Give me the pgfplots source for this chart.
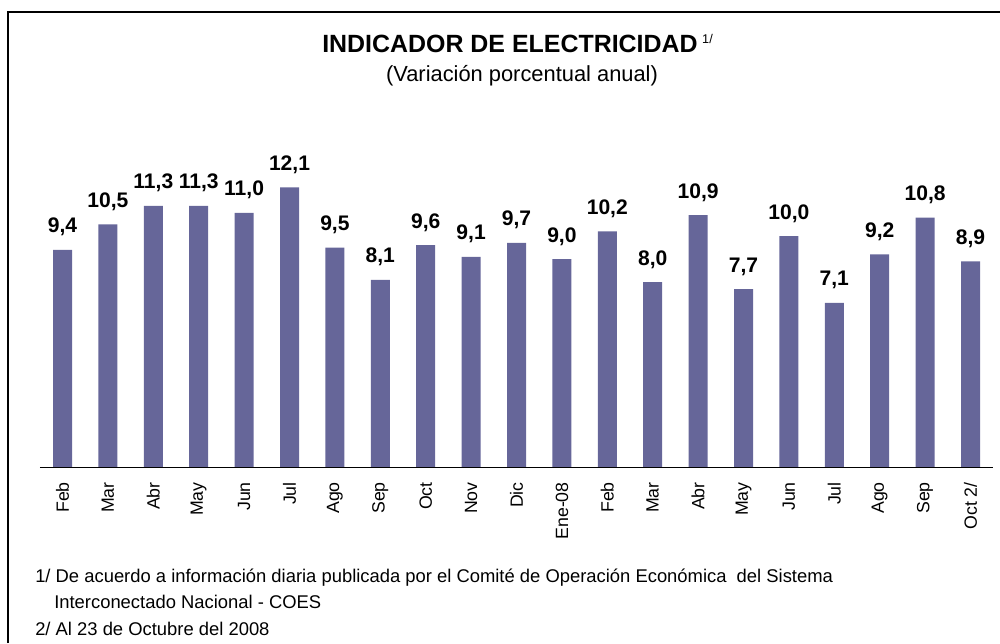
\documentclass[border=0pt]{standalone}
\usepackage{fontspec}
\setmainfont{Liberation Sans}
\usepackage{pgfplots}
\pgfplotsset{compat=1.18}
\definecolor{barc}{HTML}{666699}
\pgfplotstableread{
x v
0 9.4
1 10.5
2 11.3
3 11.3
4 11.0
5 12.1
6 9.5
7 8.1
8 9.6
9 9.1
10 9.7
11 9.0
12 10.2
13 8.0
14 10.9
15 7.7
16 10.0
17 7.1
18 9.2
19 10.8
20 8.9
}\datatable
\begin{document}
\begin{tikzpicture}
\path[use as bounding box] (0,0) rectangle (750pt,-482.25pt);
\begin{scope}[x=0.75pt,y=-0.75pt]
\coordinate (O) at (39.8,467);
\draw[line width=1.3pt] (8,643) -- (8,12) -- (1000,12);
\node[anchor=base, font=\fontsize{18.7}{22}\selectfont\bfseries, inner sep=0pt] (T) at (510,52.7) {INDICADOR DE ELECTRICIDAD};
\node[anchor=base west, font=\fontsize{9.5}{11}\selectfont, inner sep=0pt] at ([xshift=3pt,yshift=7pt]T.base east) {1/};
\node[anchor=base, font=\fontsize{16.4}{20}\selectfont, inner sep=0pt] at (522,81) {(Variación porcentual anual)};
\node[anchor=base west, font=\fontsize{13.8}{16}\selectfont, inner sep=0pt] at (35,582) {1/ De acuerdo a información diaria publicada por el Comité de Operación Económica\ \ del Sistema};
\node[anchor=base west, font=\fontsize{13.8}{16}\selectfont, inner sep=0pt] at (54,608) {Interconectado Nacional - COES};
\node[anchor=base west, font=\fontsize{13.8}{16}\selectfont, inner sep=0pt] at (35,635) {2/ Al 23 de Octubre del 2008};
\end{scope}
\begin{axis}[
  at={(O)}, anchor=south west,
  scale only axis, width=715.05pt, height=242.55pt,
  xmin=-0.5, xmax=20.5, ymin=0, ymax=14,
  ybar, bar width=14.25pt,
  axis line style={draw=none},
  ytick=\empty,
  xtick={0,...,20},
  xticklabels={Feb,Mar,Abr,May,Jun,Jul,Ago,Sep,Oct,Nov,Dic,Ene-08,Feb,Mar,Abr,May,Jun,Jul,Ago,Sep,Oct 2/},
  major tick length=0pt,
  xticklabel style={rotate=90, anchor=east, inner sep=0pt, font=\fontsize{13.3}{15}\selectfont},
  xticklabel shift=11.25pt,
  clip=false,
  nodes near coords,
  every node near coord/.append style={anchor=base, yshift=12.75pt, inner sep=0pt, font=\fontsize{15.8}{18}\selectfont\bfseries},
  /pgf/number format/fixed,
  /pgf/number format/fixed zerofill,
  /pgf/number format/precision=1,
  /pgf/number format/use comma,
  /pgf/number format/assume math mode=true,
]
\addplot[fill=barc, draw=none] table[x=x, y=v] {\datatable};
\draw[line width=0.75pt] (axis cs:-0.5,0) -- (axis cs:20.5,0);
\end{axis}
\end{tikzpicture}
\end{document}
